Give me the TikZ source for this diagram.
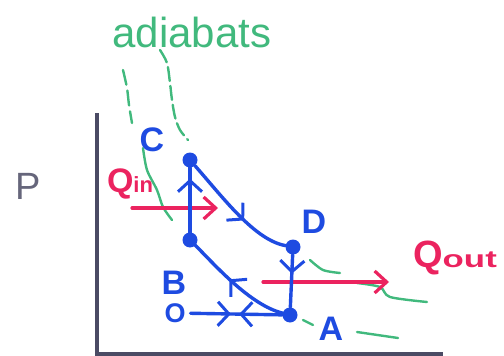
\documentclass[tikz,border=0pt]{standalone}
\usepackage{fontspec}
\setmainfont{Liberation Sans}
\usepackage{graphicx}
\usetikzlibrary{arrows.meta, decorations.markings}

\definecolor{penblue}{RGB}{30,75,225}
\definecolor{penred}{RGB}{235,35,95}
\definecolor{pengreen}{RGB}{65,185,125}
\definecolor{pengray}{RGB}{75,75,100}

\begin{document}
\begin{tikzpicture}[
        x=1pt, y=-1pt,
        every node/.style={inner sep=0pt},
        stroke/.style={penblue, line width=3.4pt, line cap=round, line join=round},
        state/.style={circle, fill=penblue, minimum size=15pt},
        ptlabel/.style={penblue, font=\fontsize{34}{34}\selectfont\bfseries},
        heat/.style={penred, line width=3.2pt, line cap=round, -{Straight Barb[length=12pt, width=22pt, line width=3.2pt]}},
        adiabat/.style={pengreen, line width=2.4pt, line cap=round},
        chevron/.tip={Straight Barb[length=11pt, width=24pt, line width=3pt]},
        midarrow/.style={postaction={decorate, decoration={markings, mark=at position #1 with {\arrow{chevron}}}}},
        backarrow/.style={postaction={decorate, decoration={markings, mark=at position #1 with {\arrowreversed{chevron}}}}}
    ]
    \useasboundingbox (0,0) rectangle (504,356);
%
    % axes
    \coordinate (ytop) at (97,113);
    \coordinate (origin) at (97,354);
    \coordinate (xend) at (443,354);
    \draw[pengray, line width=3.5pt] (ytop) -- (origin) -- (xend);
    \node[pengray!85, font=\fontsize{38}{38}\selectfont] (plabel) at (28,186) {P};
%
    % adiabats
    \node[pengreen, font=\fontsize{42}{42}\selectfont] (adlabel) at (192,32) {adiabats};
    \draw[adiabat, dash pattern=on 15pt off 6pt] plot[smooth] coordinates {(123,70) (127,88) (129,105) (132,123)};
    \draw[adiabat] plot[smooth] coordinates {(143,148) (147,170) (157,190) (163,207) (172,220)};
    \draw[adiabat] (303,320) -- (313,325);
    \draw[adiabat] (357,332) -- (398,338);
    \draw[adiabat, dash pattern=on 14pt off 5pt] plot[smooth] coordinates {(160,50) (167,63) (170,83) (172,100) (175,117) (180,130) (188,140)};
    \draw[adiabat] plot[smooth] coordinates {(310,260) (323,270) (340,273)};
    \draw[adiabat] plot[smooth] coordinates {(357,283) (380,287) (390,297) (427,302)};
%
    % heat flows
    \coordinate (qinstart) at (132,208);
    \coordinate (qinend) at (218,208);
    \coordinate (qoutstart) at (263,282);
    \coordinate (qoutend) at (389,282);
    \draw[heat] (qinstart) -- (qinend);
    \draw[heat] (qoutstart) -- (qoutend);
    \node[penred, font=\bfseries] (qinlabel) at (130,184) {{\fontsize{34}{34}\selectfont Q}{\fontsize{22}{22}\selectfont in}};
    \node[penred, font=\bfseries] (qoutlabel) at (455,258) {{\fontsize{38}{38}\selectfont Q}\scalebox{1.45}[1]{\fontsize{24}{24}\selectfont out}};
%
    % cycle
    \node[state] (C) at (190,160) {};
    \node[state] (B) at (190,240) {};
    \node[state] (D) at (293,247) {};
    \node[state] (A) at (290,315) {};
    \node[ptlabel, font=\fontsize{27}{27}\selectfont\bfseries, outer sep=5pt] (O) at (175,313) {O};
    \node[ptlabel] (Clab) at (152,140) {C};
    \node[ptlabel] (Blab) at (174,283) {B};
    \node[ptlabel] (Dlab) at (314,222) {D};
    \node[ptlabel] (Alab) at (331,329) {A};
%
    \draw[stroke, midarrow=0.44, backarrow=0.53] (O) -- (A);
    \draw[stroke, midarrow=0.57] (A) .. controls (250,305) and (215,265) .. (B);
    \draw[stroke, midarrow=0.83] (B) -- (C);
    \draw[stroke, midarrow=0.6] (C) .. controls (225,200) and (255,240) .. (D);
    \draw[stroke, midarrow=0.36] (D) -- (A);
%
\end{tikzpicture}
\end{document}
